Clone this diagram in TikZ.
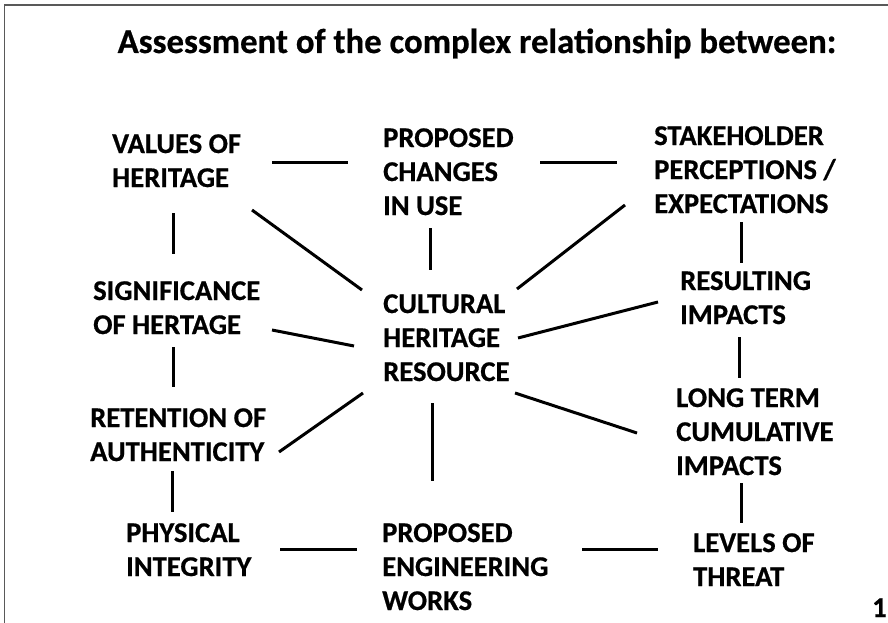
\documentclass[tikz,border=0pt]{standalone}
\usepackage{fontspec}
\setmainfont{Carlito}[BoldFeatures={FakeBold=0.6}]
\newcommand\stk[1]{\vtop{\baselineskip=34pt\lineskiplimit=-10pt\halign{##\hfil\cr#1\crcr}}}
\tikzset{
  lbl/.style={anchor=base west, inner sep=0pt, font=\fontsize{28.6}{34}\selectfont\bfseries},
  conn/.style={line width=3pt, black},
  frame/.style={line width=1.5pt, black!65}
}
\begin{document}
\begin{tikzpicture}[x=1pt,y=-1pt]
\useasboundingbox (0,0) rectangle (888,623);
\fill[white] (0,0) rectangle (888,623);
\draw[frame] (4.7,623) -- (4.7,5) -- (888,5);
\node[anchor=base, inner sep=0pt, font=\fontsize{34.8}{40}\selectfont\bfseries] (title) at (477,53) {Assessment of the complex relationship between:};
\node[lbl] (val) at (112,153) {\stk{VALUES OF\cr HERITAGE}};
\node[lbl] (chg) at (383,147) {\stk{PROPOSED\cr CHANGES\cr IN USE}};
\node[lbl] (sth) at (654,145) {\stk{STAKEHOLDER\cr PERCEPTIONS /\cr EXPECTATIONS}};
\node[lbl] (sig) at (93,300) {\stk{SIGNIFICANCE\cr OF HERTAGE}};
\node[lbl] (cul) at (383,313) {\stk{CULTURAL\cr HERITAGE\cr RESOURCE}};
\node[lbl] (res) at (680,290) {\stk{RESULTING\cr IMPACTS}};
\node[lbl] (ret) at (90,427) {\stk{RETENTION OF\cr AUTHENTICITY}};
\node[lbl] (lng) at (676,407) {\stk{LONG TERM\cr CUMULATIVE\cr IMPACTS}};
\node[lbl] (phy) at (126,542) {\stk{PHYSICAL\cr INTEGRITY}};
\node[lbl] (eng) at (382,542) {\stk{PROPOSED\cr ENGINEERING\cr WORKS}};
\node[lbl] (lvl) at (693,552) {\stk{LEVELS OF\cr THREAT}};
\node[lbl] (pg) at (872,617) {1};
% connector end points
\coordinate (a1) at (272,162); \coordinate (a2) at (348,162);
\coordinate (b1) at (540,162); \coordinate (b2) at (617,162);
\coordinate (c1) at (430,228); \coordinate (c2) at (430,270);
\coordinate (d1) at (625,205); \coordinate (d2) at (517,289);
\coordinate (e1) at (252,210); \coordinate (e2) at (362,290);
\coordinate (f1) at (173,213); \coordinate (f2) at (173,254);
\coordinate (g1) at (272,330); \coordinate (g2) at (354,346);
\coordinate (h1) at (173,347); \coordinate (h2) at (173,387);
\coordinate (i1) at (279,452); \coordinate (i2) at (363,393);
\coordinate (j1) at (172,471); \coordinate (j2) at (172,512);
\coordinate (k1) at (280,549); \coordinate (k2) at (357,549);
\coordinate (l1) at (432,403); \coordinate (l2) at (432,481);
\coordinate (m1) at (582,549); \coordinate (m2) at (658,549);
\coordinate (n1) at (515,393); \coordinate (n2) at (637,433);
\coordinate (o1) at (518,338); \coordinate (o2) at (658,302);
\coordinate (p1) at (741,222); \coordinate (p2) at (741,263);
\coordinate (q1) at (739,337); \coordinate (q2) at (739,378);
\coordinate (r1) at (741,483); \coordinate (r2) at (741,523);
\foreach \s in {a,b,c,d,e,f,g,h,i,j,k,l,m,n,o,p,q,r}
  \draw[conn] (\s1) -- (\s2);
\end{tikzpicture}
\end{document}
